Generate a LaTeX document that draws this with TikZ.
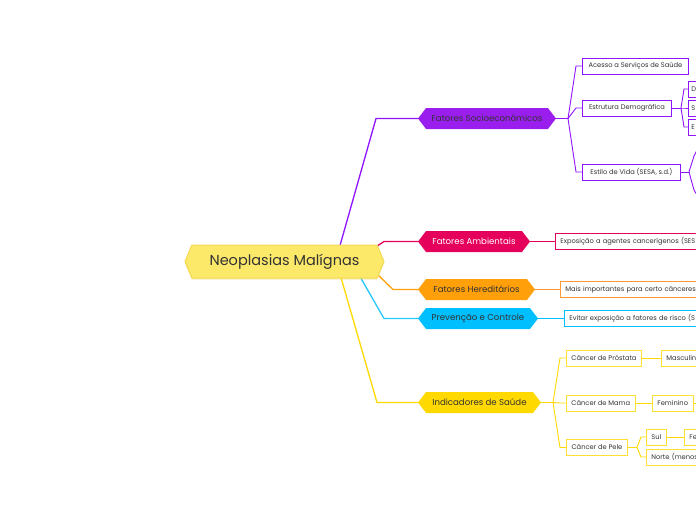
\documentclass[tikz,border=0pt]{standalone}
\usepackage{fontspec}
\setmainfont{Poppins}
\usetikzlibrary{shapes.symbols,calc,shadows}
\pgfdeclarelayer{bg}
\pgfsetlayers{bg,main}
\definecolor{cPurple}{HTML}{9013FE}
\definecolor{cPurpleF}{HTML}{9A1FEF}
\definecolor{cPink}{HTML}{E5005C}
\definecolor{cOrange}{HTML}{FF9F0A}
\definecolor{cOrangeL}{HTML}{FF9933}
\definecolor{cCyan}{HTML}{00BFFF}
\definecolor{cYellow}{HTML}{FFD900}
\definecolor{cYellowL}{HTML}{FFE033}
\definecolor{cCentral}{HTML}{FCE96A}
\definecolor{cCentralB}{HTML}{F3DA55}
\definecolor{cShadow}{HTML}{E8CC40}
\definecolor{cText}{HTML}{333333}
\tikzset{
  central/.style={signal, signal to=west and east, signal pointer angle=135,
    fill=cCentral, draw=cCentralB, line width=1pt, minimum width=199pt, minimum height=33pt,
    inner sep=0pt, font=\fontsize{14.5}{16}\selectfont, text=cText,
    drop shadow={shadow xshift=0pt, shadow yshift=-1.5pt, opacity=0.35, fill=cShadow}},
  mainnode/.style={signal, signal to=west and east, signal pointer angle=105,
    minimum height=21pt, inner sep=0pt, font=\fontsize{8.6}{10}\selectfont, text=cText},
  subbox/.style={draw, rectangle, fill=white, line width=0.9pt, minimum height=16pt,
    inner xsep=5pt, inner ysep=0pt, anchor=west, font=\fontsize{6.7}{8}\selectfont, text=cText},
  cutbox/.style={subbox, align=left},
  mainline/.style={line width=1.3pt},
  subline/.style={line width=0.9pt},
}
\begin{document}
\begin{tikzpicture}[x=1pt,y=-1pt]
\useasboundingbox (0,0) rectangle (696,520);
\begin{pgfonlayer}{bg}
\fill[white] (0,0) rectangle (696,520);
\end{pgfonlayer}

% central and main branches
\node[central] (root) at (284.5,261.5) {Neoplasias Malígnas};
\node[mainnode, fill=cPurpleF, minimum width=138pt] (soc) at (487,118.5) {Fatores Socioeconômicos};
\node[mainnode, fill=cPink, text=white, minimum width=112pt] (amb) at (474,241.5) {Fatores Ambientais};
\node[mainnode, fill=cOrange, minimum width=117pt] (her) at (476.5,289.5) {Fatores Hereditários};
\node[mainnode, fill=cCyan, minimum width=120pt] (pre) at (478,318.5) {Prevenção e Controle};
\node[mainnode, fill=cYellow, minimum width=123pt] (ind) at (479.5,402.5) {Indicadores de Saúde};

% socioeconomic children
\node[subbox, draw=cPurple, minimum width=106pt] (acc) at (582,66) {Acesso a Serviços de Saúde};
\node[subbox, draw=cPurple, minimum width=89pt] (est) at (582,108) {Estrutura Demográfica};
\node[subbox, draw=cPurple, minimum width=98pt] (vid) at (582,172) {Estilo de Vida (SESA, s.d.)};
\node[cutbox, draw=cPurple, inner xsep=3pt, text width=25pt] (d1) at (688,89) {D};
\node[cutbox, draw=cPurple, inner xsep=3pt, text width=25pt] (d2) at (688,108) {S};
\node[cutbox, draw=cPurple, inner xsep=3pt, text width=25pt] (d3) at (688,127) {E};
\coordinate (v1) at (700,144);
\coordinate (v2) at (700,200);

% single children
\node[cutbox, draw=cPink, text width=160pt] (ambc) at (555,241.5) {Exposição a agentes cancerígenos (SES};
\node[cutbox, draw=cOrangeL, text width=160pt] (herc) at (560,289.5) {Mais importantes para certo cânceres};
\node[cutbox, draw=cCyan, text width=160pt] (prec) at (564,318.5) {Evitar exposição a fatores de risco (S};

% health indicators
\node[subbox, draw=cYellowL, minimum width=75pt] (pro) at (566,358) {Câncer de Próstata};
\node[subbox, draw=cYellowL, minimum width=67pt] (mam) at (566,403) {Câncer de Mama};
\node[subbox, draw=cYellowL, minimum width=61pt] (pel) at (566,447.5) {Câncer de Pele};
\node[cutbox, draw=cYellowL, text width=60pt] (mas) at (661,358) {Masculino};
\node[subbox, draw=cYellowL, minimum width=40pt] (fem) at (652,403) {Feminino};
\coordinate (femc) at (700,403);
\node[subbox, draw=cYellowL, minimum width=19pt] (sul) at (646,437) {Sul};
\node[cutbox, draw=cYellowL, text width=60pt] (nor) at (646,457) {Norte (menos};
\node[cutbox, draw=cYellowL, text width=40pt] (fe) at (684,437) {Fe};

\begin{pgfonlayer}{bg}
% root connectors
\draw[mainline, cPurple] ($(root.center)+(55.5,-16)$) -- (376,118.5) -- (soc.west);
\draw[mainline, cPink] ($(root.center)+(92,-15)$) -- (384,241.5) -- (amb.west);
\draw[mainline, cOrange] ($(root.center)+(92,12)$) -- (393,289.5) -- (her.west);
\draw[mainline, cCyan!85] ($(root.center)+(76,16)$) -- (384,318.5) -- (pre.west);
\draw[mainline, cYellow] ($(root.center)+(56.5,16)$) -- (377,402.5) -- (ind.west);

% socioeconomic
\coordinate (fs) at (568,118.5);
\draw[subline, cPurple] (soc.east) -- (fs);
\foreach \c in {acc,est,vid}
  \draw[subline, cPurple] (fs) -- ($(\c.west)+(-6,0)$) -- (\c.west);
\coordinate (fe1) at (681,108);
\draw[subline, cPurple] (est.east) -- (fe1);
\foreach \c in {d1,d2,d3}
  \draw[subline, cPurple] (fe1) -- ($(\c.west)+(-4,0)$) -- (\c.west);
\coordinate (fv) at (689,172);
\draw[subline, cPurple] (vid.east) -- (fv);
\draw[subline, cPurple] (fv) -- (694,156) -- (v1);
\draw[subline, cPurple] (fv) -- (694,190) -- (v2);

% single children
\draw[subline, cPink] (amb.east) -- (ambc.west);
\draw[subline, cOrangeL] (her.east) -- (herc.west);
\draw[subline, cCyan] (pre.east) -- (prec.west);

% indicators
\coordinate (fi) at (553,402.5);
\draw[subline, cYellow] (ind.east) -- (fi);
\foreach \c in {pro,mam,pel}
  \draw[subline, cYellow] (fi) -- ($(\c.west)+(-6,0)$) -- (\c.west);
\draw[subline, cYellow] (pro.east) -- (mas.west);
\draw[subline, cYellow] (mam.east) -- (fem.west);
\draw[subline, cYellow] (fem.east) -- (femc);
\coordinate (fp) at (637,447.5);
\draw[subline, cYellow] (pel.east) -- (fp);
\foreach \c in {sul,nor}
  \draw[subline, cYellow] (fp) -- ($(\c.west)+(-5,0)$) -- (\c.west);
\draw[subline, cYellow] (sul.east) -- (fe.west);
\end{pgfonlayer}
\end{tikzpicture}
\end{document}
